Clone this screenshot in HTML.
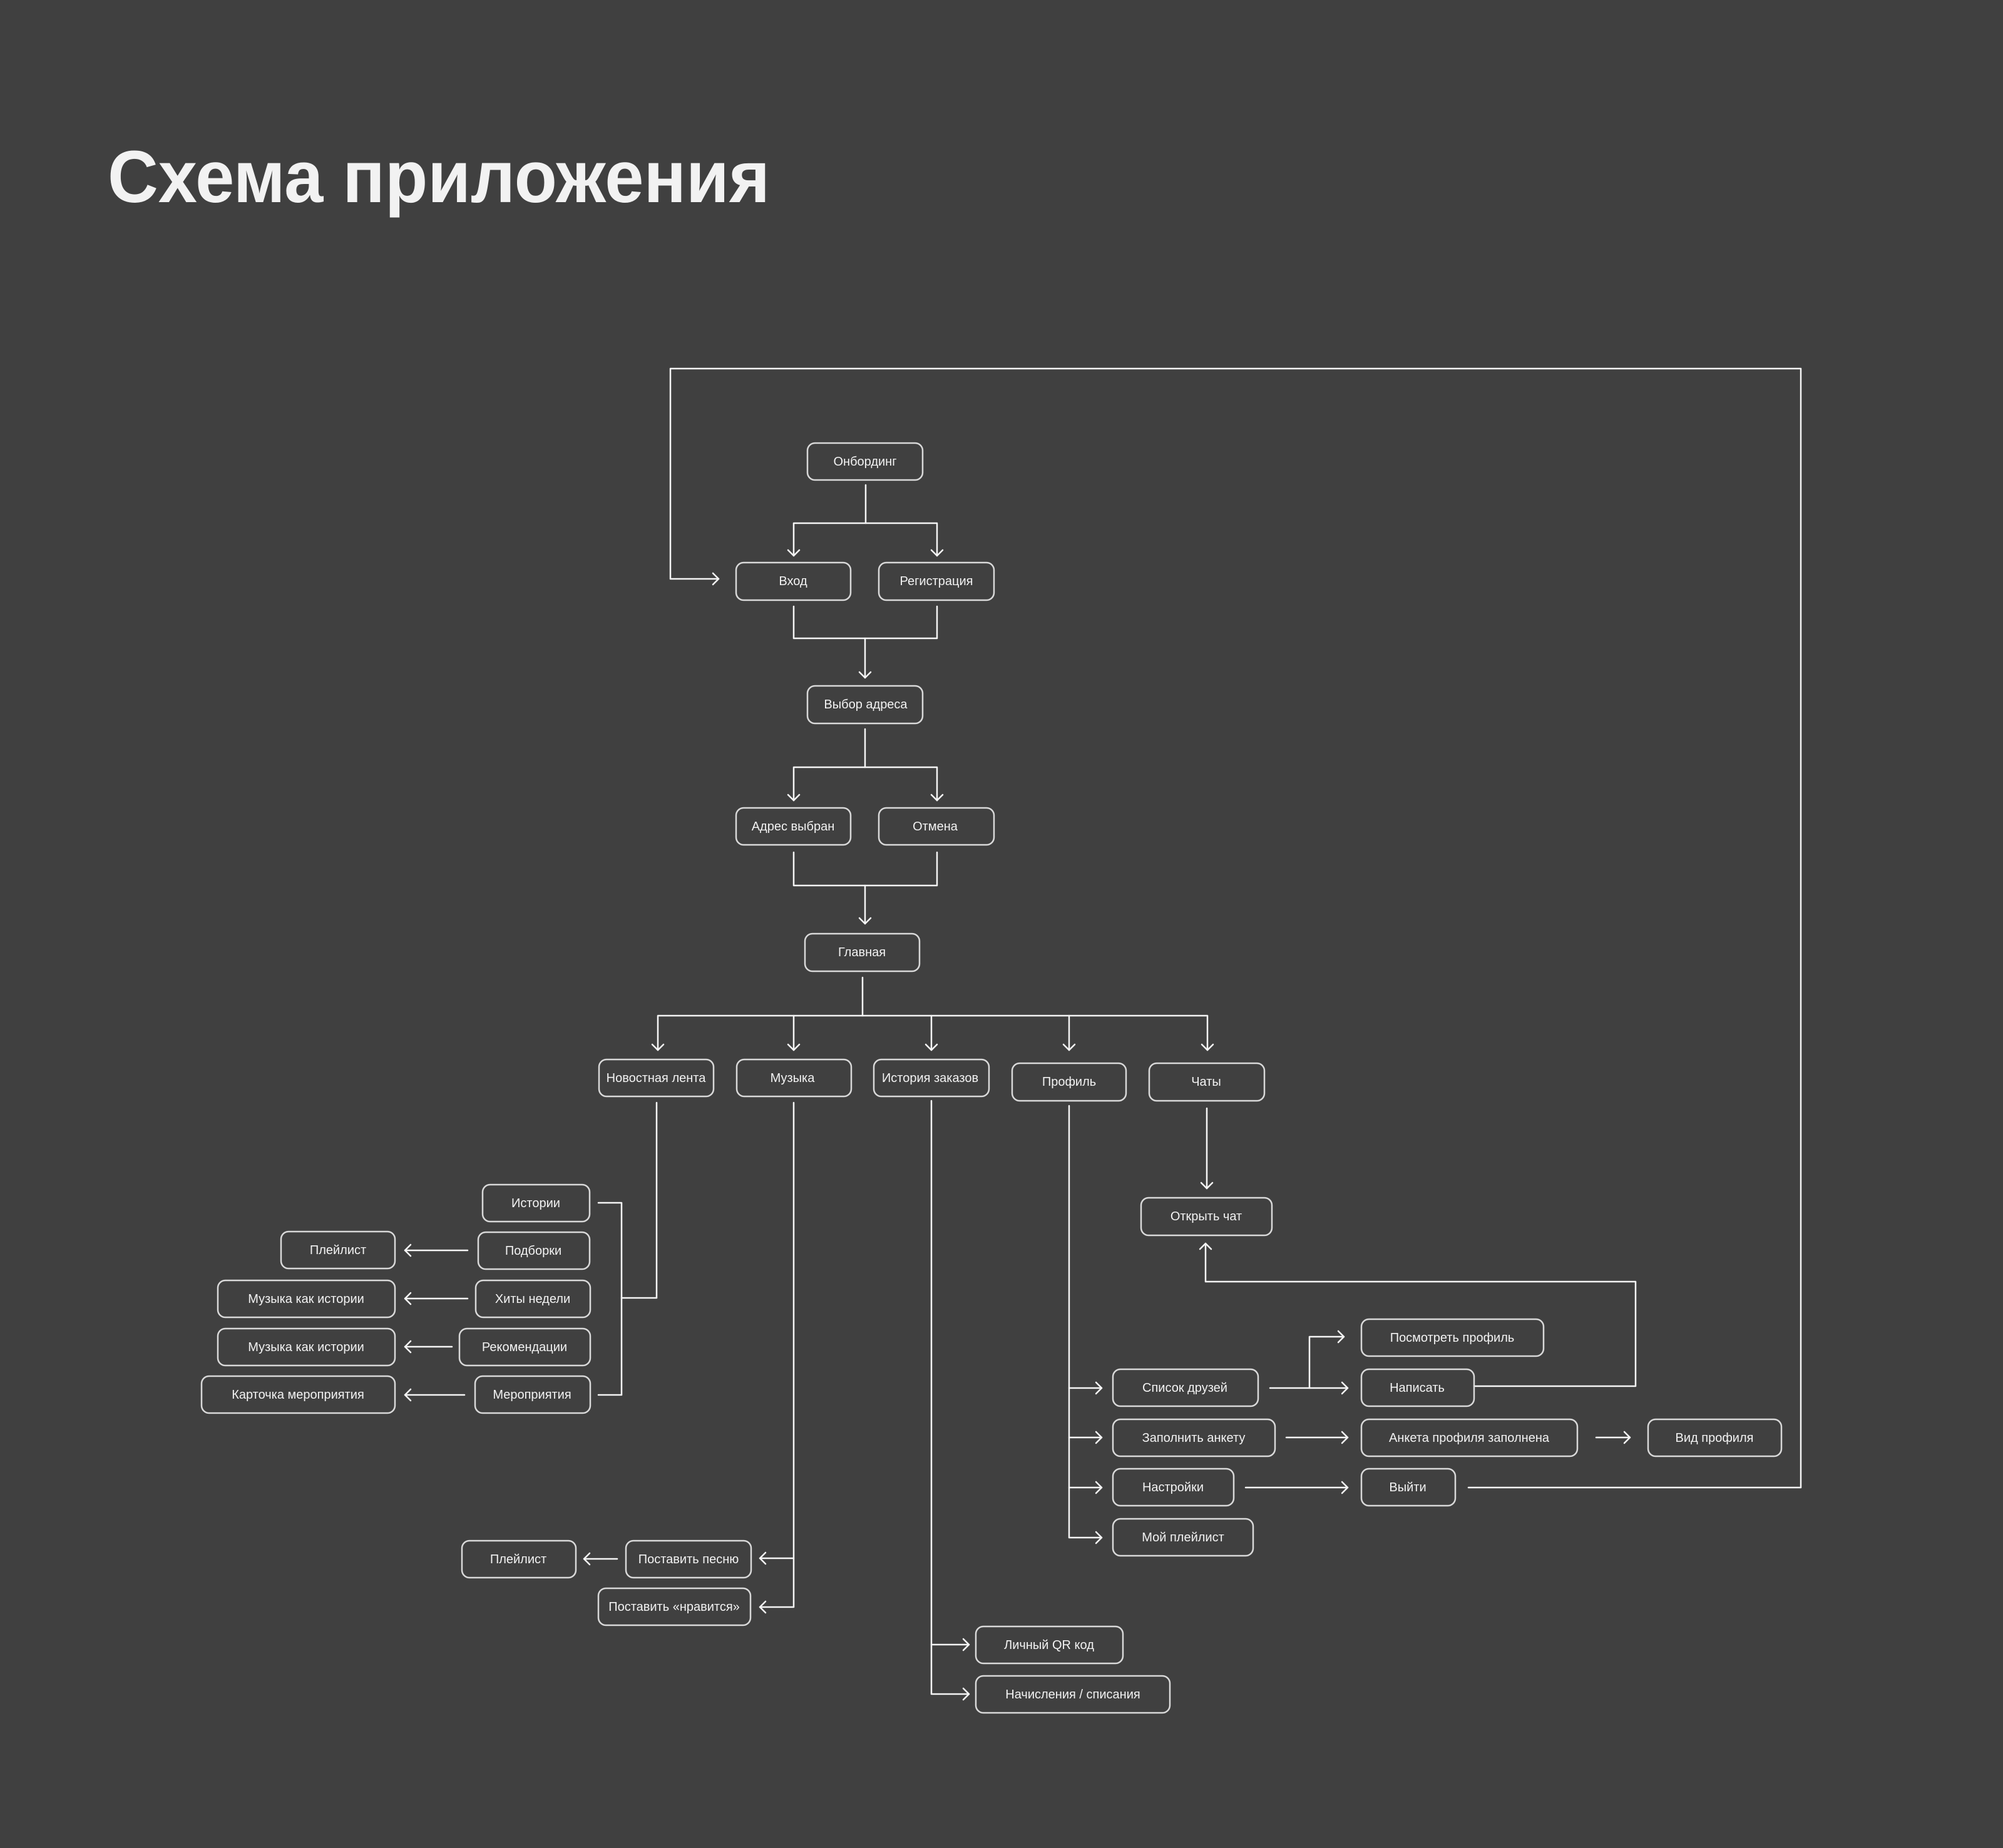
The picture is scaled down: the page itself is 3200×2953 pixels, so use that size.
<!DOCTYPE html>
<html><head><meta charset="utf-8"><style>
html,body{margin:0;padding:0;background:#404040;}
svg{display:block;}
text{font-family:"Liberation Sans","Noto Sans CJK SC",sans-serif;fill:#f2f2f2;}
.b{fill:none;stroke:#d9d9d9;stroke-width:2.5;}
.l{fill:none;stroke:#f5f5f5;stroke-width:2.5;stroke-linejoin:round;stroke-linecap:round;}
.t{font-size:20px;text-anchor:middle;dominant-baseline:central;}
</style></head><body>
<svg width="3200" height="2953" viewBox="0 0 3200 2953" xmlns="http://www.w3.org/2000/svg">
<rect width="3200" height="2953" fill="#404040"/>
<text x="172" y="323" font-size="118" font-weight="bold" textLength="1058" lengthAdjust="spacingAndGlyphs" fill="#fff">Схема приложения</text>

<g class="l">
<path d="M2346,2377 H2877 V589 H1071 V925 H1148"/><path d="M1139,916 L1148,925 L1139,934"/>
<path d="M1383,775 V836"/><path d="M1268,888 V836 H1497 V888"/>
<path d="M1259,879 L1268,888 L1277,879"/><path d="M1488,879 L1497,888 L1506,879"/>
<path d="M1268,969 V1020 H1497 V969"/><path d="M1382,1020 V1083"/><path d="M1373,1074 L1382,1083 L1391,1074"/>
<path d="M1382,1165 V1226"/><path d="M1268,1279 V1226 H1497 V1279"/>
<path d="M1259,1270 L1268,1279 L1277,1270"/><path d="M1488,1270 L1497,1279 L1506,1270"/>
<path d="M1268,1362 V1415 H1497 V1362"/><path d="M1382,1415 V1476"/><path d="M1373,1467 L1382,1476 L1391,1467"/>
<path d="M1378,1562 V1623"/><path d="M1051,1678 V1623 H1929 V1678"/>
<path d="M1268,1623 V1678"/><path d="M1488,1623 V1678"/><path d="M1708,1623 V1678"/>
<path d="M1042,1669 L1051,1678 L1060,1669"/><path d="M1259,1669 L1268,1678 L1277,1669"/><path d="M1479,1669 L1488,1678 L1497,1669"/><path d="M1699,1669 L1708,1678 L1717,1669"/><path d="M1920,1669 L1929,1678 L1938,1669"/>
<path d="M1049,1762 V2074 H993"/><path d="M956,1922 H993 V2229 H956"/>
<path d="M747,1998 H647"/><path d="M656,1989 L647,1998 L656,2007"/>
<path d="M747,2075 H647"/><path d="M656,2066 L647,2075 L656,2084"/>
<path d="M722,2152 H647"/><path d="M656,2143 L647,2152 L656,2161"/>
<path d="M742,2229 H647"/><path d="M656,2220 L647,2229 L656,2238"/>
<path d="M1268,1762 V2568 H1214"/><path d="M1268,2490 H1214"/>
<path d="M1223,2481 L1214,2490 L1223,2499"/><path d="M1223,2559 L1214,2568 L1223,2577"/>
<path d="M986,2491 H933"/><path d="M942,2482 L933,2491 L942,2500"/>
<path d="M1488,1759 V2707 H1548"/><path d="M1488,2628 H1548"/>
<path d="M1539,2619 L1548,2628 L1539,2637"/><path d="M1539,2698 L1548,2707 L1539,2716"/>
<path d="M1928,1771 V1899"/><path d="M1919,1890 L1928,1899 L1937,1890"/>
<path d="M1708,1767 V2457 H1760"/><path d="M1708,2218 H1760"/><path d="M1708,2297 H1760"/><path d="M1708,2377 H1760"/>
<path d="M1751,2209 L1760,2218 L1751,2227"/><path d="M1751,2288 L1760,2297 L1751,2306"/><path d="M1751,2368 L1760,2377 L1751,2386"/><path d="M1751,2448 L1760,2457 L1751,2466"/>
<path d="M2029,2218 H2153"/><path d="M2092,2218 V2136 H2147"/>
<path d="M2144,2209 L2153,2218 L2144,2227"/><path d="M2138,2127 L2147,2136 L2138,2145"/>
<path d="M2055,2297 H2153"/><path d="M2144,2288 L2153,2297 L2144,2306"/>
<path d="M2550,2297 H2604"/><path d="M2595,2288 L2604,2297 L2595,2306"/>
<path d="M1990,2377 H2153"/><path d="M2144,2368 L2153,2377 L2144,2386"/>
<path d="M2355,2215 H2613 V2048 H1926 V1987"/><path d="M1917,1996 L1926,1987 L1935,1996"/>
</g>

<g>
<rect class="b" x="1290" y="708" width="184" height="59" rx="12"/><text class="t" x="1382" y="738">Онбординг</text>
<rect class="b" x="1176" y="899" width="183" height="60" rx="12"/><text class="t" x="1267" y="929">Вход</text>
<rect class="b" x="1404" y="899" width="184" height="60" rx="12"/><text class="t" x="1496" y="929">Регистрация</text>
<rect class="b" x="1290" y="1096" width="184" height="60" rx="12"/><text class="t" x="1383" y="1126">Выбор адреса</text>
<rect class="b" x="1176" y="1291" width="183" height="59" rx="12"/><text class="t" x="1267" y="1321">Адрес выбран</text>
<rect class="b" x="1404" y="1291" width="184" height="59" rx="12"/><text class="t" x="1494" y="1321">Отмена</text>
<rect class="b" x="1286" y="1492" width="183" height="60" rx="12"/><text class="t" x="1377" y="1522">Главная</text>
<rect class="b" x="957" y="1693" width="183" height="59" rx="12"/><text class="t" x="1048" y="1723">Новостная лента</text>
<rect class="b" x="1177" y="1693" width="183" height="59" rx="12"/><text class="t" x="1266" y="1723">Музыка</text>
<rect class="b" x="1396" y="1693" width="184" height="59" rx="12"/><text class="t" x="1486" y="1723">История заказов</text>
<rect class="b" x="1617" y="1699" width="182" height="60" rx="12"/><text class="t" x="1708" y="1729">Профиль</text>
<rect class="b" x="1836" y="1699" width="184" height="60" rx="12"/><text class="t" x="1927" y="1729">Чаты</text>
<rect class="b" x="1823" y="1914" width="209" height="60" rx="12"/><text class="t" x="1927" y="1944">Открыть чат</text>
<rect class="b" x="771" y="1893" width="171" height="59" rx="12"/><text class="t" x="856" y="1923">Истории</text>
<rect class="b" x="764" y="1969" width="178" height="59" rx="12"/><text class="t" x="852" y="1999">Подборки</text>
<rect class="b" x="760" y="2046" width="183" height="59" rx="12"/><text class="t" x="851" y="2076">Хиты недели</text>
<rect class="b" x="734" y="2123" width="209" height="59" rx="12"/><text class="t" x="838" y="2153">Рекомендации</text>
<rect class="b" x="759" y="2199" width="184" height="59" rx="12"/><text class="t" x="850" y="2229">Мероприятия</text>
<rect class="b" x="449" y="1968" width="182" height="59" rx="12"/><text class="t" x="540" y="1998">Плейлист</text>
<rect class="b" x="348" y="2046" width="283" height="59" rx="12"/><text class="t" x="489" y="2076">Музыка как истории</text>
<rect class="b" x="348" y="2123" width="283" height="59" rx="12"/><text class="t" x="489" y="2153">Музыка как истории</text>
<rect class="b" x="322" y="2199" width="309" height="59" rx="12"/><text class="t" x="476" y="2229">Карточка мероприятия</text>
<rect class="b" x="1000" y="2462" width="200" height="59" rx="12"/><text class="t" x="1100" y="2492">Поставить песню</text>
<rect class="b" x="956" y="2538" width="243" height="59" rx="12"/><text class="t" x="1077" y="2568">Поставить «нравится»</text>
<rect class="b" x="738" y="2462" width="182" height="59" rx="12"/><text class="t" x="828" y="2492">Плейлист</text>
<rect class="b" x="1778" y="2188" width="232" height="59" rx="12"/><text class="t" x="1893" y="2218">Список друзей</text>
<rect class="b" x="1778" y="2268" width="259" height="59" rx="12"/><text class="t" x="1907" y="2298">Заполнить анкету</text>
<rect class="b" x="1778" y="2347" width="193" height="59" rx="12"/><text class="t" x="1874" y="2377">Настройки</text>
<rect class="b" x="1778" y="2427" width="224" height="59" rx="12"/><text class="t" x="1890" y="2457">Мой плейлист</text>
<rect class="b" x="2175" y="2108" width="291" height="59" rx="12"/><text class="t" x="2320" y="2138">Посмотреть профиль</text>
<rect class="b" x="2175" y="2188" width="180" height="59" rx="12"/><text class="t" x="2264" y="2218">Написать</text>
<rect class="b" x="2175" y="2268" width="345" height="59" rx="12"/><text class="t" x="2347" y="2298">Анкета профиля заполнена</text>
<rect class="b" x="2633" y="2268" width="213" height="59" rx="12"/><text class="t" x="2739" y="2298">Вид профиля</text>
<rect class="b" x="2175" y="2347" width="150" height="59" rx="12"/><text class="t" x="2249" y="2377">Выйти</text>
<rect class="b" x="1559" y="2599" width="235" height="59" rx="12"/><text class="t" x="1676" y="2629">Личный QR код</text>
<rect class="b" x="1559" y="2678" width="310" height="59" rx="12"/><text class="t" x="1714" y="2708">Начисления / списания</text>
</g>
</svg>
</body></html>
